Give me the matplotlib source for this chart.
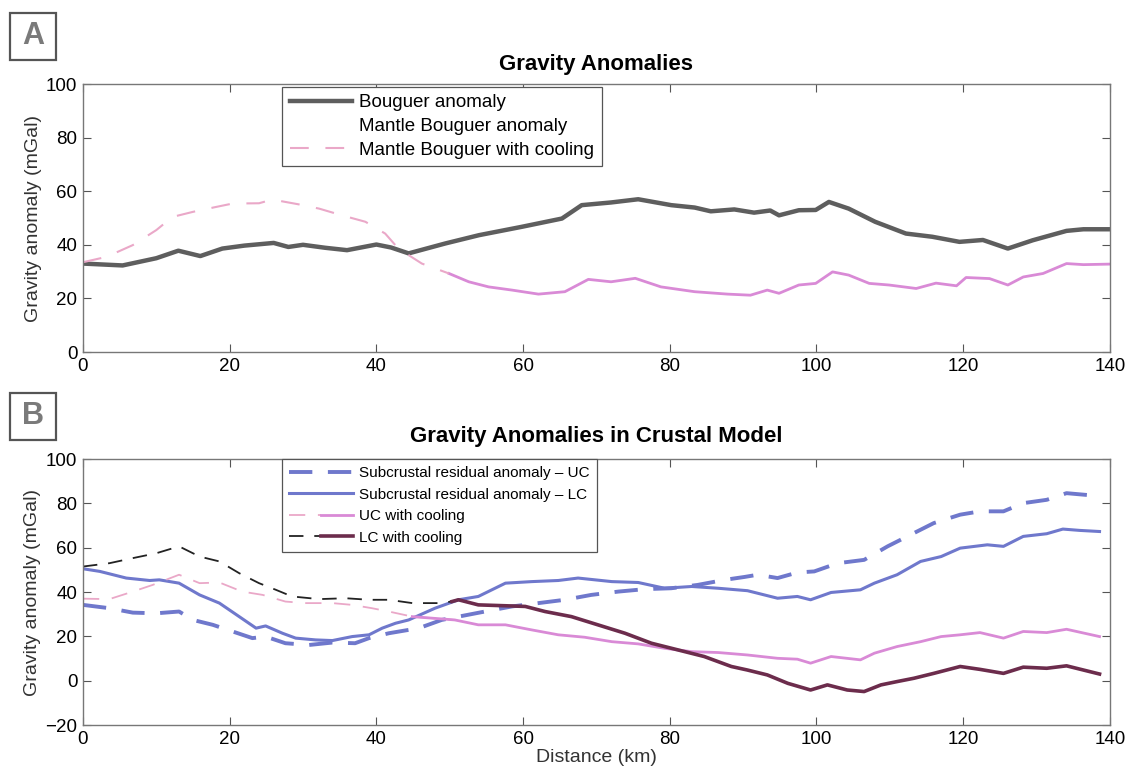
import numpy as np
import matplotlib
matplotlib.use('Agg')
import matplotlib.pyplot as plt
from matplotlib.legend_handler import HandlerTuple
from matplotlib.patches import Rectangle

plt.rcParams['font.family'] = ['Liberation Sans', 'DejaVu Sans']

# ---- panel A data (distance km, anomaly mGal) ----
bouguer_x = [0, 5.4, 10, 13, 16, 19, 22, 26, 28, 30, 33, 36, 40, 42, 44.4, 49.4, 54, 59.8,
             65.3, 68, 72, 75.7, 80.2, 83.4, 85.6, 88.8, 91.5, 93.7, 94.9, 97.6, 99.9,
             101.7, 104.4, 108, 112.2, 115.8, 119.5, 122.7, 126.1, 129.5, 134.1, 136.4, 140]
bouguer_y = [33, 32.3, 35, 37.8, 35.8, 38.6, 39.7, 40.7, 39.2, 40, 38.9, 38, 40.1, 39, 36.8,
             40.5, 43.6, 46.7, 49.8, 54.8, 55.8, 57, 54.8, 53.9, 52.5, 53.2, 52, 52.8, 51,
             52.9, 53, 56, 53.5, 48.6, 44.2, 43, 41.1, 41.8, 38.6, 41.7, 45.2, 45.8, 45.8]

mantle_x = [49.9, 52.6, 55.3, 58.5, 62.1, 65.7, 68.9, 72, 75.3, 78.8, 83.4, 87.9, 91, 93.3,
            94.9, 97.6, 99.9, 102.2, 104.4, 107.2, 109.9, 113.6, 116.3, 119.1, 120.4,
            123.6, 126.1, 128.2, 130.9, 134.1, 136.4, 140]
mantle_y = [29.3, 26.2, 24.3, 23.1, 21.6, 22.5, 27.1, 26.2, 27.5, 24.3, 22.5, 21.6, 21.2,
            23.1, 21.9, 25, 25.6, 29.9, 28.7, 25.6, 25, 23.7, 25.7, 24.7, 27.8, 27.4, 25,
            28, 29.3, 33, 32.6, 32.8]

cooling_x = [0, 3.2, 6.8, 10, 12.2, 15, 18.1, 20.4, 24, 25.8, 29.4, 32.2, 35.3, 38.5, 41.2,
             43, 46.2, 49.9]
cooling_y = [33.5, 35.5, 39.9, 45.5, 50.4, 52.3, 54.1, 55.4, 55.5, 56.9, 55.1, 53.5, 51,
             48.6, 44.2, 38.6, 33, 29.3]

# ---- panel B data ----
uc_x = [0, 3.6, 6.8, 10, 13.1, 15, 17.7, 20.4, 23.1, 24.9, 27.6, 30.8, 34, 37.1, 39, 41.7,
        45.8, 48.9, 51.2, 54.8, 58.5, 62.1, 65.7, 69.3, 73, 76.6, 80.2, 83.8, 87.5, 90.2,
        92, 94.7, 97.4, 99.7, 102.9, 106.5, 109.7, 113.3, 116, 119.6, 122.3, 125.5, 128.2,
        131.4, 134.1, 138.2]
uc_y = [34.2, 32.7, 30.7, 30.4, 31.2, 27.4, 25.2, 22.2, 19.2, 19.9, 16.9, 16.1, 17.2, 16.9,
        19.2, 21.4, 23.7, 27.4, 28.9, 31.2, 33.5, 35, 36.5, 38.7, 40.2, 41.3, 41.7, 43.2,
        45.5, 46.8, 47.8, 46.3, 48.8, 49.3, 53, 54.5, 60.6, 66.6, 71.1, 74.9, 76.4, 76.4,
        80.1, 81.6, 84.6, 83.4]

lc_x = [0, 2.3, 5.9, 9.1, 10.4, 13.1, 15.9, 18.6, 21.3, 23.6, 24.9, 27.2, 29, 31.7, 34,
        36.7, 39, 40.8, 42.6, 44.4, 48, 51.2, 53.9, 57.6, 61.2, 64.8, 67.5, 72.1, 75.7,
        79.3, 83, 86.6, 90.6, 94.7, 97.4, 99.2, 102, 106, 107.9, 111, 114.2, 117, 119.6,
        123.3, 125.5, 128.2, 131.4, 133.6, 135.9, 138.6]
lc_y = [50.5, 49.3, 46.3, 45.2, 45.5, 44, 38.7, 35, 28.9, 23.7, 24.7, 21.4, 19.2, 18.4,
        18.1, 19.9, 20.7, 23.7, 25.9, 27.4, 32.7, 36.5, 38, 44, 44.7, 45.2, 46.3, 44.7,
        44.3, 41.7, 42.5, 41.7, 40.6, 37.2, 38, 36.5, 39.8, 41, 44, 47.8, 53.8, 56, 59.8,
        61.3, 60.6, 65.1, 66.3, 68.4, 67.8, 67.3]

uc_cool_x = [0, 3.6, 6.8, 9.5, 13.1, 15.9, 18.6, 21.7, 24.5, 27.6, 30.3, 34, 36.7, 39.4,
             41.7, 44.9, 50.7, 53.9, 57.6, 61.2, 64.8, 68.4, 72.1, 75.7, 79.3, 83, 86.6,
             90.6, 94.7, 97.4, 99.2, 102, 106, 107.9, 111, 114.2, 117, 119.6, 122.3,
             125.5, 128.2, 131.4, 134.1, 138.6]
uc_cool_y = [37, 36.8, 40.2, 43.2, 47.8, 44, 44.3, 40.2, 38.7, 35.7, 35, 35, 34.2, 32.7,
             31.2, 28.9, 27.4, 25.2, 25.2, 22.9, 20.7, 19.6, 17.6, 16.6, 14.6, 13.1, 12.7,
             11.6, 10.1, 9.7, 7.9, 10.9, 9.4, 12.4, 15.4, 17.6, 19.9, 20.7, 21.7, 19.2,
             22.2, 21.7, 23.2, 19.9]

lc_cool_x = [0, 3.6, 6.8, 10, 13.1, 15.9, 18.6, 21.3, 24, 26.3, 28.5, 32.2, 35.8, 39,
             41.7, 44.9, 48.5, 50.3, 51.2, 53.9, 57.6, 60.3, 63, 66.6, 70.2, 73.9, 77.5,
             81.1, 84.7, 88.4, 90.6, 93.3, 96.1, 99.2, 101.5, 104.2, 106.5, 108.8, 111,
             113.3, 116, 119.6, 122.3, 125.5, 128.2, 131.4, 134.1, 138.6]
lc_cool_y = [51.5, 53, 55.3, 57.5, 60.6, 56, 53.8, 48.5, 44, 41, 38, 36.8, 37.2, 36.5,
             36.5, 35, 35, 35.7, 36.5, 34.2, 33.8, 33.5, 31.2, 28.9, 25.2, 21.4, 16.9,
             13.9, 10.9, 6.4, 4.8, 2.6, -1.2, -4.2, -1.9, -4.2, -4.9, -1.9, -0.4, 1.1, 3.3,
             6.4, 5.1, 3.3, 6.1, 5.6, 6.7, 3.0]

split_km = 50  # cooling curves are dashed before, solid after

GREY = '#5e5e5e'
PINK = '#d98ad6'
PINK_LIGHT = '#eaa8c8'
BLUE = '#6f78cc'
MAROON = '#6c2c4c'


def style_axes(ax, ylo, yhi, yticks):
    ax.set_xlim(0, 140)
    ax.set_ylim(ylo, yhi)
    ax.set_xticks(np.arange(0, 141, 20))
    ax.set_yticks(yticks)
    ax.tick_params(direction='in', top=True, right=True, length=6, width=0.8,
                   color='#555555', labelsize=13.5, pad=4)
    for s in ax.spines.values():
        s.set_color('#777777')
        s.set_linewidth(1.0)
    ax.set_ylabel('Gravity anomaly (mGal)', fontsize=14, color='#333333', labelpad=3)


def panel_box(fig, x0, y0, letter):
    # fixed size square (46 px) with a grey letter
    w, h = 46 / 1129, 47 / 775
    fig.patches.append(Rectangle((x0, y0), w, h, transform=fig.transFigure,
                                 fill=False, ec='#555555', lw=1.6))
    fig.text(x0 + w / 2, y0 + h / 2, letter, fontsize=22, fontweight='bold',
             color='#7a7a7a', ha='center', va='center')


fig = plt.figure(figsize=(11.29, 7.75), dpi=100)
axA = fig.add_axes([0.0735, 0.5458, 0.9095, 0.3458])
axB = fig.add_axes([0.0735, 0.0645, 0.9095, 0.3432])

# ---- panel A ----
l1, = axA.plot(bouguer_x, bouguer_y, color=GREY, lw=3.2, label='Bouguer anomaly')
l2, = axA.plot(mantle_x, mantle_y, color=PINK, lw=2, label='Mantle Bouguer anomaly')
l3, = axA.plot(cooling_x, cooling_y, color=PINK_LIGHT, lw=1.5, ls=(0, (9, 8)),
               label='Mantle Bouguer with cooling')
style_axes(axA, 0, 100, np.arange(0, 101, 20))
axA.set_title('Gravity Anomalies', fontsize=16, fontweight='bold', pad=10)
legA = axA.legend(loc='upper left', bbox_to_anchor=(0.194, 0.99), fontsize=13.5,
                  handlelength=3.3, fancybox=False, edgecolor='#555555', framealpha=1,
                  borderpad=0.4, labelspacing=0.35, handletextpad=0.4, borderaxespad=0)
legA.get_frame().set_linewidth(0.9)
# the mantle Bouguer anomaly handle is not visible in the original
legA.get_lines()[1].set_visible(False)

# ---- panel B ----
xuc = np.array(uc_cool_x)
yuc = np.array(uc_cool_y)
xlc = np.array(lc_cool_x)
ylc = np.array(lc_cool_y)

b1, = axB.plot(uc_x, uc_y, color=BLUE, lw=2.8, ls=(0, (6, 4)))
b2, = axB.plot(lc_x, lc_y, color=BLUE, lw=2.2)
m = xuc <= split_km + 1
b3a, = axB.plot(xuc[m], yuc[m], color=PINK_LIGHT, lw=1.3, ls=(0, (9, 7)))
b3b, = axB.plot(xuc[xuc >= split_km - 6], yuc[xuc >= split_km - 6], color=PINK, lw=2)
m = xlc <= split_km + 1
b4a, = axB.plot(xlc[m], ylc[m], color='#222222', lw=1.3, ls=(0, (8, 6)))
b4b, = axB.plot(xlc[xlc >= split_km], ylc[xlc >= split_km], color=MAROON, lw=2.6)
style_axes(axB, -20, 100, np.arange(-20, 101, 20))
axB.set_title('Gravity Anomalies in Crustal Model', fontsize=16, fontweight='bold', pad=12)
axB.set_xlabel('Distance (km)', fontsize=14, color='#333333', labelpad=1)
legB = axB.legend([b1, b2, (b3a, b3b), (b4a, b4b)],
                  ['Subcrustal residual anomaly – UC', 'Subcrustal residual anomaly – LC',
                   'UC with cooling', 'LC with cooling'],
                  handler_map={tuple: HandlerTuple(ndivide=None, pad=0)},
                  loc='upper left', bbox_to_anchor=(0.194, 1.0), fontsize=11,
                  handlelength=4.2, fancybox=False, edgecolor='#555555', framealpha=1,
                  borderpad=0.45, labelspacing=0.5, handletextpad=0.4, borderaxespad=0)
legB.get_frame().set_linewidth(0.9)

panel_box(fig, 10 / 1129, 1 - 60 / 775, 'A')
panel_box(fig, 10 / 1129, 1 - 440 / 775, 'B')

fig.savefig('out.png', dpi=100)
